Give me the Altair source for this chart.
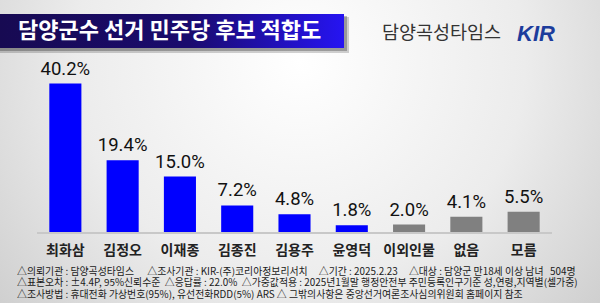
import altair as alt
import pandas as pd

categories = ["최화삼", "김정오", "이재종", "김종진", "김용주", "윤영덕", "이외인물", "없음", "모름"]
values = [40.2, 19.4, 15.0, 7.2, 4.8, 1.8, 2.0, 4.1, 5.5]
groups = ["후보"] * 6 + ["기타"] * 3

title_text = "담양군수 선거 민주당 후보 적합도"
brand_text = "담양곡성타임스"
NB = "\u00a0"
footer_lines = [
    f"△의뢰기관 : 담양곡성타임스{NB*6}△조사기관 : KIR-(주)코리아정보리서치{NB*5}△기간 : 2025.2.23{NB*5}△대상 : 담양군 만18세 이상 남녀{NB*3}504명",
    f"△표본오차 : ±4.4P, 95%신뢰수준{NB*2}△응답률 : 22.0%{NB*2}△가중값적용 : 2025년1월말 행정안전부 주민등록인구기준 성,연령,지역별(셀가중)",
    "△조사방법 : 휴대전화 가상번호(95%), 유선전화RDD(5%) ARS △ 그밖의사항은 중앙선거여론조사심의위원회 홈페이지 참조",
]

FONT = "Noto Sans CJK KR"

df = pd.DataFrame({"cat": categories, "value": values, "group": groups})
df["label"] = [f"{v:.1f}%" for v in values]
one = pd.DataFrame({"a": [0]})

bg = alt.Chart(one).mark_rect(
    color=alt.RadialGradient(
        gradient="radial", x1=0.5, y1=0.35, x2=0.5, y2=0.35, r1=0, r2=0.75,
        stops=[alt.GradientStop(offset=0, color="#ffffff"),
               alt.GradientStop(offset=0.5, color="#ececec"),
               alt.GradientStop(offset=1, color="#c4c4c4")]
    )
).encode(x=alt.value(0), x2=alt.value(600), y=alt.value(0), y2=alt.value(303))

shadow1 = alt.Chart(one).mark_rect(color="#000000", opacity=0.18).encode(
    x=alt.value(0), x2=alt.value(349), y=alt.value(17), y2=alt.value(53))
shadow2 = alt.Chart(one).mark_rect(color="#000000", opacity=0.25).encode(
    x=alt.value(0), x2=alt.value(347), y=alt.value(16), y2=alt.value(51))

banner = alt.Chart(one).mark_rect(
    color=alt.LinearGradient(
        gradient="linear", x1=0, y1=0, x2=1, y2=0,
        stops=[alt.GradientStop(offset=0, color="#170a52"),
               alt.GradientStop(offset=0.55, color="#1a0b6e"),
               alt.GradientStop(offset=1, color="#2614f2")]
    )
).encode(x=alt.value(0), x2=alt.value(344), y=alt.value(14), y2=alt.value(48))

title = alt.Chart(one).mark_text(
    text=title_text, font=FONT, fontSize=22, fontWeight="bold", color="white",
    align="left", baseline="middle"
).encode(x=alt.value(18), y=alt.value(31))

brand = alt.Chart(one).mark_text(
    text=brand_text, font=FONT, fontSize=18.5, color="#333333",
    align="left", baseline="middle"
).encode(x=alt.value(382), y=alt.value(33))

kir = alt.Chart(one).mark_text(
    text="KIR", font="Liberation Sans", fontSize=22, fontWeight="bold",
    fontStyle="italic", color="#1c3c9c", align="left", baseline="middle"
).encode(x=alt.value(517), y=alt.value(34))

xscale = alt.Scale(range=[37, 552], paddingInner=0.44, paddingOuter=0.215)
yscale = alt.Scale(domain=[0, 40.2], range=[232, 83.5], nice=False, zero=True)

base = alt.Chart(df).encode(
    x=alt.X("cat:N", sort=categories, scale=xscale, axis=None)
)

bars = base.mark_bar().encode(
    y=alt.Y("value:Q", scale=yscale, axis=None),
    y2=alt.Y2(datum=0),
    color=alt.Color("group:N", scale=alt.Scale(domain=["후보", "기타"], range=["#0000ff", "#808080"]), legend=None),
)

vlabels = base.mark_text(font="Roboto", fontSize=18.5, color="#111111", baseline="middle", dy=-15).encode(
    y=alt.Y("value:Q", scale=yscale, axis=None),
    text="label:N",
)

axis_line = alt.Chart(one).mark_rule(color="#c8c8c8", strokeWidth=2).encode(
    x=alt.value(37), x2=alt.value(552), y=alt.value(233))

clabels = base.mark_text(font=FONT, fontSize=14, fontWeight="bold", color="#222222", baseline="middle").encode(
    y=alt.value(251), text="cat:N"
)

foot_df = pd.DataFrame({"t": footer_lines, "yy": [271.5, 283, 294.5]})
footer = alt.Chart(foot_df).mark_text(
    font=FONT, fontSize=9.9, color="#1a1a1a", align="left", baseline="middle"
).encode(x=alt.value(17), y=alt.Y("yy:Q", scale=alt.Scale(domain=[0, 303], range=[0, 303]), axis=None), text="t:N")

chart = alt.layer(
    bg, shadow1, shadow2, banner, title, brand, kir, axis_line, bars, vlabels, clabels, footer
).resolve_scale(y="independent").properties(
    width=600, height=303, padding=0, autosize=alt.AutoSizeParams(type="none")
).configure_view(stroke=None)

chart.save("out.html", embed_options={"renderer": "svg", "actions": False})
